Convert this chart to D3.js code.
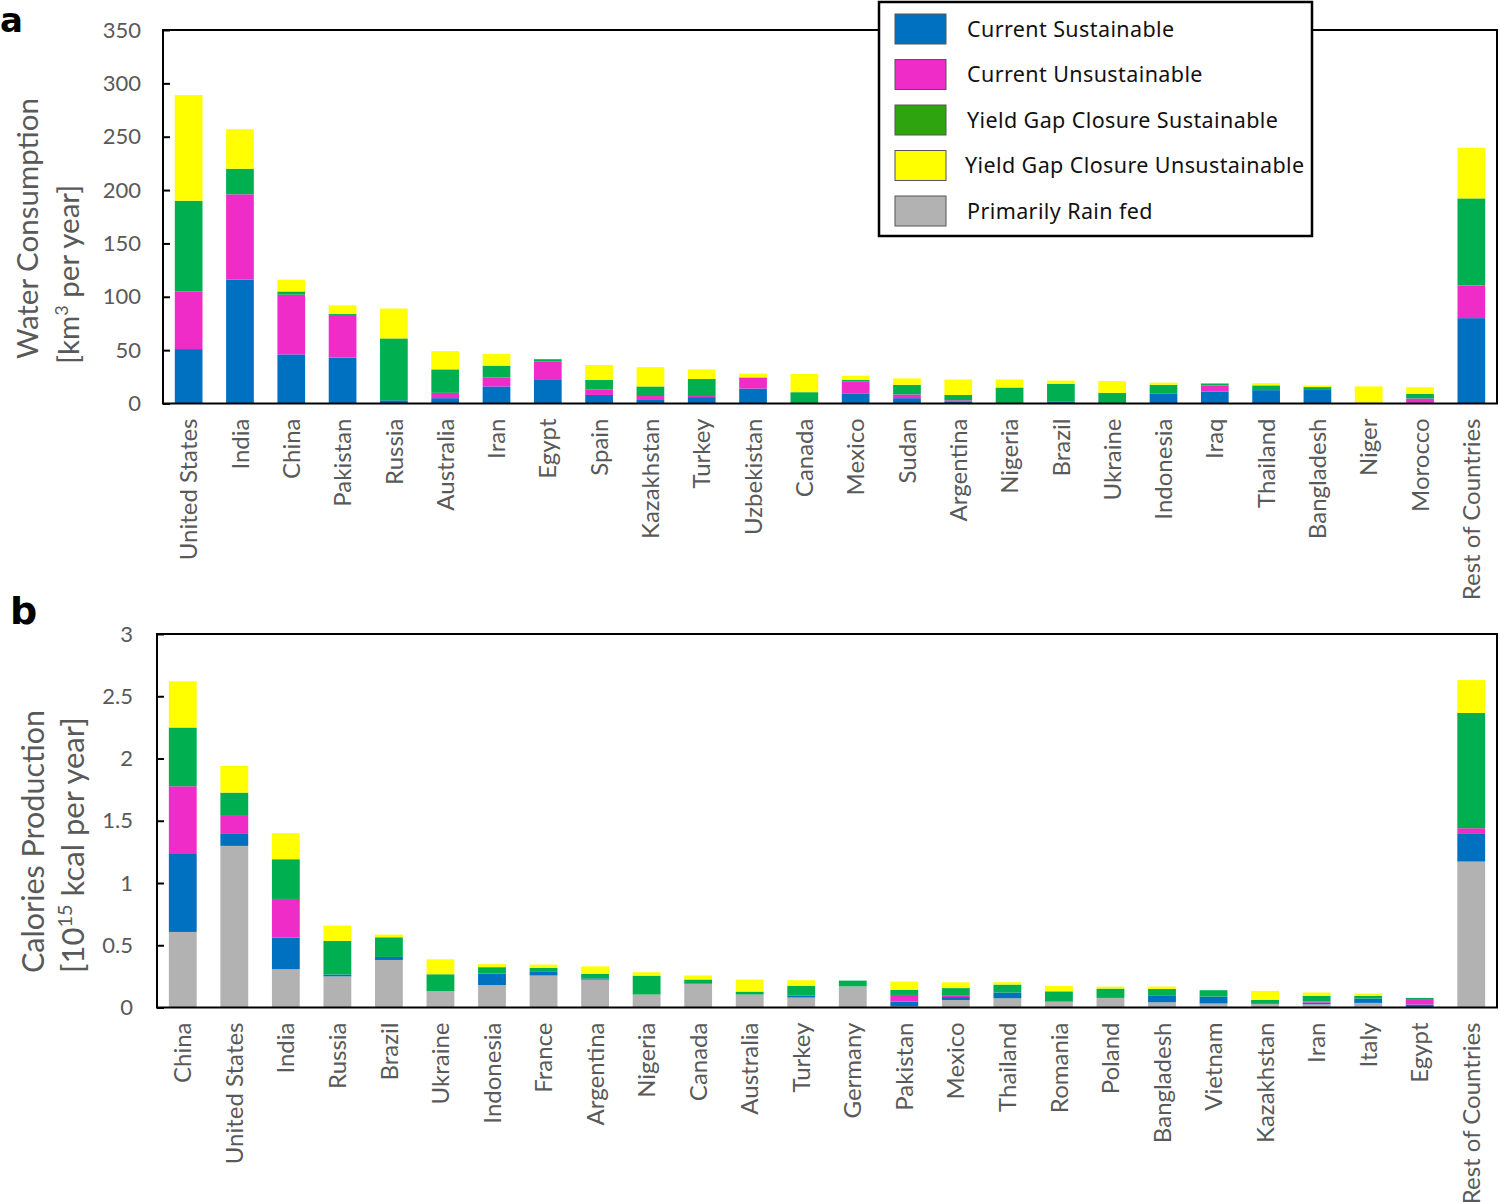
<!DOCTYPE html>
<html><head><meta charset="utf-8">
<script src="https://cdn.jsdelivr.net/npm/d3@7"></script>
<style>body{margin:0;background:#fff}svg{display:block}</style>
</head><body>
<svg id="c" width="1500" height="1204"></svg>
<script>
// ---------- Panel a: water consumption (km3 per year) ----------
const catsA = ["United States","India","China","Pakistan","Russia","Australia","Iran","Egypt","Spain","Kazakhstan","Turkey","Uzbekistan","Canada","Mexico","Sudan","Argentina","Nigeria","Brazil","Ukraine","Indonesia","Iraq","Thailand","Bangladesh","Niger","Morocco","Rest of Countries"];
const curSustA   = [51,116,46,43,3,5,16,22,8,4,6,14,0,9.5,5,2,0,2,0.5,9.5,11.3,12.5,13.4,0,0.7,80];
const curUnsustA = [54,80,56,40,0,5,8.5,17.5,5,3,1,10,0,11,3.5,1,0,0,0,0,5.6,0,0,0,4,30.6];
const ygSustA    = [85,24,3,1,58,22,11,2,9,9,16,0.5,10.6,1.5,9,5,15,16.5,9.5,8,2,4.5,2,0,4.5,81.6];
const ygUnsustA  = [99,37,11,8,28,17,11,0,14,18,9,3.5,17,4,6,14.5,7.5,3,11,2,0.3,2,1.5,16,6,47.4];
const ticksA = [0,50,100,150,200,250,300,350];

// ---------- Panel b: calories production (10^15 kcal per year) ----------
const catsB = ["China","United States","India","Russia","Brazil","Ukraine","Indonesia","France","Argentina","Nigeria","Canada","Australia","Turkey","Germany","Pakistan","Mexico","Thailand","Romania","Poland","Bangladesh","Vietnam","Kazakhstan","Iran","Italy","Egypt","Rest of Countries"];
const rainB      = [0.607,1.298,0.307,0.25,0.382,0.132,0.18,0.257,0.224,0.104,0.19,0.104,0.08,0.17,0.01,0.06,0.074,0.047,0.077,0.042,0.032,0.029,0.026,0.037,0.004,1.172];
const curSustB   = [0.626,0.096,0.255,0.015,0.024,0,0.093,0.029,0.01,0,0.005,0,0.016,0,0.038,0.024,0.046,0,0,0.056,0.056,0,0.014,0.035,0.02,0.222];
const curUnsustB = [0.544,0.145,0.31,0,0,0,0,0,0,0,0,0,0,0,0.053,0.01,0,0,0,0,0,0,0.008,0,0.037,0.046];
const ygSustB    = [0.472,0.187,0.319,0.27,0.158,0.135,0.051,0.032,0.035,0.152,0.03,0.024,0.077,0.046,0.04,0.062,0.064,0.083,0.075,0.051,0.051,0.032,0.045,0.021,0.016,0.926];
const ygUnsustB  = [0.371,0.214,0.209,0.123,0.022,0.12,0.024,0.027,0.061,0.027,0.032,0.096,0.046,0,0.067,0.046,0.019,0.043,0.016,0.019,0,0.072,0.027,0.019,0,0.264];
const ticksB = [0,0.5,1,1.5,2,2.5,3];

const legendNames = ["Current Sustainable","Current Unsustainable","Yield Gap Closure Sustainable","Yield Gap Closure Unsustainable","Primarily Rain fed"];

const COL = {rain:"#B2B2B2", cs:"#0070C0", cu:"#F02CC8", gs:"#00B050", gu:"#FFFF00"};
const LEGCOL = ["#0070C0","#F02CC8","#2EA50F","#FFFF00","#B2B2B2"];
const FONT = "Lato, 'Open Sans', sans-serif";
const GREY = "#595959";

const svg = d3.select("#c");

function panel(opts){
  const {cats, series, keys, colors, x0, x1, yTop, yBot, yMax, ticks, fmt, pad} = opts;
  const g = svg.append("g");
  const x = d3.scaleBand().domain(cats).range([x0,x1]).paddingInner(0.46).paddingOuter(0.23);
  const y = d3.scaleLinear().domain([0,yMax]).range([yBot,yTop]);
  const rows = cats.map((c,i)=>{const o={cat:c}; keys.forEach((k,j)=>o[k]=series[j][i]); return o;});
  const stack = d3.stack().keys(keys)(rows);
  g.selectAll("g.layer").data(stack).join("g").attr("fill",(d,i)=>colors[i])
    .selectAll("rect").data(d=>d).join("rect")
    .attr("x",d=>x(d.data.cat)).attr("width",x.bandwidth())
    .attr("y",d=>y(d[1])).attr("height",d=>Math.max(0,y(d[0])-y(d[1])));
  // y axis
  const ax = g.append("g").attr("transform",`translate(${x0},0)`)
    .call(d3.axisLeft(y).tickValues(ticks).tickFormat(fmt).tickSizeInner(-7).tickSizeOuter(0).tickPadding(pad));
  ax.select(".domain").remove();
  ax.selectAll(".tick line").attr("stroke","#000").attr("stroke-width",2);
  ax.selectAll(".tick text").attr("fill",GREY).style("font-family",FONT).style("font-size","22px");
  // x labels
  g.selectAll("text.cat").data(cats).join("text").attr("class","cat")
    .attr("transform",d=>`translate(${x(d)+x.bandwidth()/2},${yBot+15}) rotate(-90)`)
    .attr("text-anchor","end").attr("dy","0.36em")
    .attr("fill",GREY).style("font-family",FONT).style("font-size","24px").text(d=>d);
  // frame
  g.append("rect").attr("x",x0).attr("y",yTop).attr("width",x1-x0).attr("height",yBot-yTop)
    .attr("fill","none").attr("stroke","#000").attr("stroke-width",2);
  return g;
}

panel({cats:catsA, series:[curSustA,curUnsustA,ygSustA,ygUnsustA], keys:["cs","cu","gs","gu"],
  colors:[COL.cs,COL.cu,COL.gs,COL.gu], x0:163, x1:1497, yTop:30, yBot:403.5, yMax:350,
  ticks:ticksA, fmt:d3.format("d"), pad:22});

panel({cats:catsB, series:[rainB,curSustB,curUnsustB,ygSustB,ygUnsustB], keys:["rain","cs","cu","gs","gu"],
  colors:[COL.rain,COL.cs,COL.cu,COL.gs,COL.gu], x0:157, x1:1497, yTop:634, yBot:1007.5, yMax:3,
  ticks:ticksB, fmt:d=>String(d), pad:24});

// axis titles
function ytitle(xc, yStart, size, supSize, parts){
  const t = svg.append("text").attr("transform",`translate(${xc},${yStart}) rotate(-90)`)
    .attr("text-anchor","start").attr("dy","0.36em")
    .attr("fill",GREY).style("font-family",FONT).style("font-size",size+"px");
  parts.forEach(p=>{
    const s = t.append("tspan").text(p.t);
    if(p.sup){ s.attr("font-size",supSize+"px").attr("baseline-shift","super"); }
  });
}
ytitle(27,359,29.5,18,[{t:"Water Consumption"}]);
ytitle(68,364,29.5,18,[{t:"[km"},{t:"3",sup:true},{t:" per year]"}]);
ytitle(33,973,30.5,19,[{t:"Calories Production"}]);
ytitle(73,973,31,20,[{t:"[10"},{t:"15",sup:true},{t:" kcal per year]"}]);

// panel letters
svg.append("text").attr("x",0).attr("y",32).style("font-family","'DejaVu Sans', sans-serif").style("font-size","34px").attr("font-weight","bold").text("a");
svg.append("text").attr("x",10).attr("y",624).style("font-family","'DejaVu Sans', sans-serif").style("font-size","38px").attr("font-weight","bold").text("b");

// legend
const lg = svg.append("g");
lg.append("rect").attr("x",879).attr("y",2).attr("width",433).attr("height",234)
  .attr("fill","#fff").attr("stroke","#000").attr("stroke-width",2.5);
const ly = d3.scalePoint().domain(legendNames).range([29,211]);
lg.selectAll("rect.sw").data(legendNames).join("rect").attr("class","sw")
  .attr("x",895).attr("y",d=>ly(d)-15).attr("width",51).attr("height",30)
  .attr("fill",(d,i)=>LEGCOL[i]).attr("stroke","#555").attr("stroke-width",1);
lg.selectAll("text.lt").data(legendNames).join("text").attr("class","lt")
  .attr("x",(d,i)=>i===3?965:967).attr("y",d=>ly(d)).attr("dy","0.36em")
  .attr("fill","#111").style("font-family","'Noto Sans', sans-serif").style("font-size","21.5px")
  .style("letter-spacing","0.4px").text(d=>d);
</script>
</body></html>
